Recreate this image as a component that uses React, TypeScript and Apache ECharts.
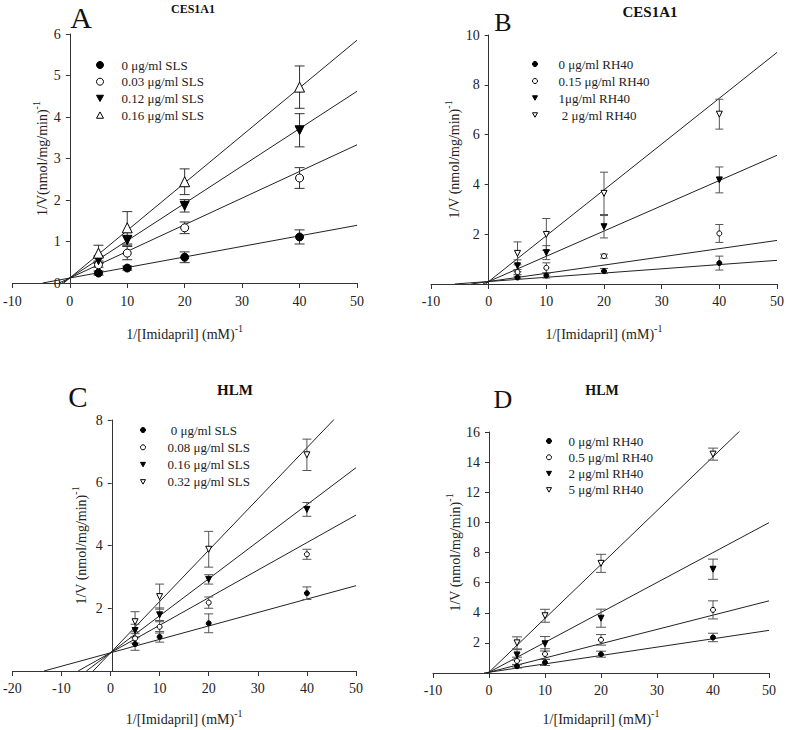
import React, { useEffect, useRef } from 'react';
import * as echarts from 'echarts';

const FONT = "'Liberation Serif', 'Times New Roman', serif";
const X_VALUES = [5, 10, 20, 40];

// Panel A – CES1A1 with SLS
const A_NAMES = ['0 μg/ml SLS', '0.03 μg/ml SLS', '0.12 μg/ml SLS', '0.16 μg/ml SLS'];
const A_Y = [
  [0.24, 0.36, 0.62, 1.11],
  [0.44, 0.72, 1.33, 2.53],
  [0.55, 1.03, 1.86, 3.68],
  [0.72, 1.33, 2.44, 4.72],
];
const A_ERR = [
  [0.05, 0.05, 0.13, 0.17],
  [0.06, 0.16, 0.14, 0.25],
  [0.08, 0.12, 0.15, 0.4],
  [0.19, 0.39, 0.31, 0.51],
];
const A_SLOPE = [0.0254, 0.0642, 0.09, 0.1146];
const A_INTERCEPT = 0.12;

// Panel B – CES1A1 with RH40
const B_NAMES = ['0 μg/ml RH40', '0.15 μg/ml RH40', '1μg/ml RH40', ' 2 μg/ml RH40'];
const B_Y = [
  [0.26, 0.34, 0.52, 0.84],
  [0.48, 0.65, 1.12, 2.03],
  [0.73, 1.26, 2.3, 4.18],
  [1.23, 1.99, 3.64, 6.82],
];
const B_ERR = [
  [0.05, 0.1, 0.1, 0.28],
  [0.1, 0.2, 0.08, 0.36],
  [0.24, 0.28, 0.45, 0.52],
  [0.46, 0.64, 0.85, 0.6],
];
const B_SLOPE = [0.017, 0.033, 0.1014, 0.184];
const B_INTERCEPT = 0.1;

// Panel C – HLM with SLS
const C_NAMES = [' 0 μg/ml SLS', '0.08 μg/ml SLS', '0.16 μg/ml SLS', '0.32 μg/ml SLS'];
const C_Y = [
  [0.86, 1.09, 1.52, 2.48],
  [1.04, 1.41, 2.18, 3.72],
  [1.29, 1.79, 2.92, 5.15],
  [1.57, 2.37, 3.88, 6.89],
];
const C_ERR = [
  [0.2, 0.17, 0.3, 0.2],
  [0.15, 0.2, 0.18, 0.16],
  [0.2, 0.22, 0.15, 0.22],
  [0.32, 0.4, 0.57, 0.5],
];
const C_SLOPE = [0.0428, 0.0878, 0.118, 0.1634];
const C_INTERCEPT = 0.58;

// Panel D – HLM with RH40
const D_NAMES = ['0 μg/ml RH40', '0.5 μg/ml RH40', '2 μg/ml RH40', '5 μg/ml RH40'];
const D_Y = [
  [0.45, 0.7, 1.25, 2.36],
  [0.8, 1.26, 2.2, 4.19],
  [1.2, 1.94, 3.64, 6.89],
  [2.0, 3.8, 7.28, 14.53],
];
const D_ERR = [
  [0.12, 0.2, 0.2, 0.28],
  [0.25, 0.35, 0.35, 0.6],
  [0.35, 0.48, 0.6, 0.67],
  [0.4, 0.43, 0.6, 0.4],
];
const D_SLOPE = [0.0556, 0.0948, 0.1986, 0.3576];
const D_INTERCEPT = 0.05;

const DOWN_TRI = 'path://M0,0L10,0L5,9Z';
const UP_TRI = 'path://M5,0L10,9L0,9Z';
const X_MAX = 50;

type Panel = {
  key: string;
  names: string[];
  ys: number[][];
  errs: number[][];
  slopes: number[];
  intercept: number;
  xMin: number;
  yMax: number;
  yInterval: number;
  showZero: boolean;
  grid: { left: number; top: number; width: number; height: number };
  symbols: { symbol: string; filled: boolean; size: number }[];
  capW: number;
  errColor: string;
  yName: string;
  yGap: number;
  xGap: number;
  xLabelMargin: number;
  legend: { left: number; top: number; textPad: number; rowH: number; icon: number };
};

const PANELS: Panel[] = [
  {
    key: 'A', names: A_NAMES, ys: A_Y, errs: A_ERR, slopes: A_SLOPE, intercept: A_INTERCEPT,
    xMin: -10, yMax: 6, yInterval: 1, showZero: true,
    grid: { left: 12, top: 34, width: 345, height: 249 },
    symbols: [
      { symbol: 'circle', filled: true, size: 8 },
      { symbol: 'circle', filled: false, size: 8 },
      { symbol: DOWN_TRI, filled: true, size: 9 },
      { symbol: UP_TRI, filled: false, size: 10 },
    ],
    capW: 10, errColor: '#333', yName: '1/V(nmol/mg/min)', yGap: 18, xGap: 40, xLabelMargin: 11,
    legend: { left: 96, top: 58, textPad: 13, rowH: 16.7, icon: 7 },
  },
  {
    key: 'B', names: B_NAMES, ys: B_Y, errs: B_ERR, slopes: B_SLOPE, intercept: B_INTERCEPT,
    xMin: -10, yMax: 10, yInterval: 2, showZero: false,
    grid: { left: 431, top: 35, width: 346, height: 249 },
    symbols: [
      { symbol: 'circle', filled: true, size: 5 },
      { symbol: 'circle', filled: false, size: 5 },
      { symbol: DOWN_TRI, filled: true, size: 6 },
      { symbol: DOWN_TRI, filled: false, size: 6 },
    ],
    capW: 8, errColor: '#555', yName: '1/V (nmol/mg/min)', yGap: 27, xGap: 39, xLabelMargin: 10,
    legend: { left: 532, top: 57, textPad: 16, rowH: 17, icon: 5 },
  },
  {
    key: 'C', names: C_NAMES, ys: C_Y, errs: C_ERR, slopes: C_SLOPE, intercept: C_INTERCEPT,
    xMin: -20, yMax: 8, yInterval: 2, showZero: false,
    grid: { left: 8, top: 420, width: 348, height: 251 },
    symbols: [
      { symbol: 'circle', filled: true, size: 5 },
      { symbol: 'circle', filled: false, size: 5 },
      { symbol: DOWN_TRI, filled: true, size: 6 },
      { symbol: DOWN_TRI, filled: false, size: 6 },
    ],
    capW: 9, errColor: '#555', yName: '1/V (nmol/mg/min)', yGap: 23, xGap: 37, xLabelMargin: 10,
    legend: { left: 140, top: 423, textPad: 17, rowH: 17.3, icon: 5 },
  },
  {
    key: 'D', names: D_NAMES, ys: D_Y, errs: D_ERR, slopes: D_SLOPE, intercept: D_INTERCEPT,
    xMin: -10, yMax: 16, yInterval: 2, showZero: false,
    grid: { left: 433, top: 432, width: 336, height: 241 },
    symbols: [
      { symbol: 'circle', filled: true, size: 5 },
      { symbol: 'circle', filled: false, size: 5 },
      { symbol: DOWN_TRI, filled: true, size: 6 },
      { symbol: DOWN_TRI, filled: false, size: 6 },
    ],
    capW: 10, errColor: '#555', yName: '1/V (nmol/mg/min)', yGap: 25, xGap: 35, xLabelMargin: 10,
    legend: { left: 546, top: 434, textPad: 12, rowH: 16.3, icon: 5 },
  },
];

const HEADINGS = [
  { letter: 'A', lx: 81, ly: 17, lsize: 30, title: 'CES1A1', tx: 193, ty: 9, tsize: 12 },
  { letter: 'B', lx: 503, ly: 22, lsize: 26, title: 'CES1A1', tx: 650, ty: 12, tsize: 15 },
  { letter: 'C', lx: 78, ly: 397, lsize: 29, title: 'HLM', tx: 235, ty: 390, tsize: 15 },
  { letter: 'D', lx: 503, ly: 399, lsize: 26, title: 'HLM', tx: 602, ty: 390, tsize: 14 },
];

const X_NAME = '{n|1/[Imidapril] (mM)}{s|-1}';

function buildOption() {
  const grid: any[] = [];
  const xAxis: any[] = [];
  const yAxis: any[] = [];
  const series: any[] = [];
  const legend: any[] = [];
  const rich = {
    n: { fontFamily: FONT, fontSize: 14, color: '#222', lineHeight: 18, verticalAlign: 'bottom' },
    s: { fontFamily: FONT, fontSize: 10, color: '#222', lineHeight: 10, verticalAlign: 'top' },
  };

  PANELS.forEach((p, gi) => {
    grid.push({ ...p.grid, containLabel: false });
    // place the y axis line at x = 0 of the x scale
    const zeroOffset = ((0 - p.xMin) / (X_MAX - p.xMin)) * p.grid.width;
    xAxis.push({
      type: 'value', gridIndex: gi, min: p.xMin, max: X_MAX, interval: 10, position: 'bottom',
      name: X_NAME, nameLocation: 'middle', nameGap: p.xGap,
      nameTextStyle: { fontFamily: FONT, rich },
      axisLine: { onZero: false, lineStyle: { color: '#333', width: 1 } },
      axisTick: { show: true, length: 5, lineStyle: { color: '#333' } },
      axisLabel: { fontFamily: FONT, fontSize: 14, color: '#222', margin: p.xLabelMargin },
      splitLine: { show: false },
    });
    yAxis.push({
      type: 'value', gridIndex: gi, min: 0, max: p.yMax, interval: p.yInterval,
      position: 'left', offset: -zeroOffset,
      name: '{n|' + p.yName + '}{s|-1}', nameLocation: 'middle', nameGap: p.yGap, nameRotate: 90,
      nameTextStyle: { fontFamily: FONT, rich },
      axisLine: { show: true, onZero: false, lineStyle: { color: '#333', width: 1 } },
      axisTick: { show: true, length: 4, lineStyle: { color: '#333' } },
      axisLabel: {
        fontFamily: FONT, fontSize: 14, color: '#222', margin: 9,
        formatter: (v: number) => (v === 0 && !p.showZero ? '' : String(v)),
      },
      splitLine: { show: false },
    });

    const legendNames: string[] = [];
    p.names.forEach((nm, si) => {
      const sname = p.key + '|' + nm;
      legendNames.push(sname);
      const sym = p.symbols[si];
      const m = p.slopes[si];
      const b = p.intercept;
      const x0 = Math.max(p.xMin, -b / m);
      series.push({
        type: 'line', xAxisIndex: gi, yAxisIndex: gi, name: p.key + '-fit-' + si,
        data: [[x0, b + m * x0], [X_MAX, b + m * X_MAX]],
        showSymbol: false, symbol: 'none', clip: true, silent: true, z: 2,
        lineStyle: { color: '#222', width: 1 },
      });
      series.push({
        type: 'custom', xAxisIndex: gi, yAxisIndex: gi, name: p.key + '-err-' + si,
        data: X_VALUES.map((x, i) => [x, p.ys[si][i], p.errs[si][i]]),
        encode: { x: 0, y: 1 }, silent: true, z: 3,
        renderItem: (params: any, api: any) => {
          const x = api.value(0);
          const y = api.value(1);
          const e = api.value(2);
          const top = api.coord([x, y + e]);
          const bot = api.coord([x, y - e]);
          const hw = p.capW / 2;
          const style = { stroke: p.errColor, lineWidth: 1 };
          return {
            type: 'group',
            children: [
              { type: 'line', shape: { x1: top[0], y1: top[1], x2: bot[0], y2: bot[1] }, style },
              { type: 'line', shape: { x1: top[0] - hw, y1: top[1], x2: top[0] + hw, y2: top[1] }, style },
              { type: 'line', shape: { x1: bot[0] - hw, y1: bot[1], x2: bot[0] + hw, y2: bot[1] }, style },
            ],
          };
        },
      });
      series.push({
        type: 'scatter', xAxisIndex: gi, yAxisIndex: gi, name: sname,
        data: X_VALUES.map((x, i) => [x, p.ys[si][i]]),
        symbol: sym.symbol, symbolSize: sym.size, z: 5,
        itemStyle: { color: sym.filled ? '#000' : '#fff', borderColor: '#000', borderWidth: 1, opacity: 1 },
      });
    });

    legend.push({
      orient: 'vertical', left: p.legend.left, top: p.legend.top,
      itemWidth: p.legend.icon, itemHeight: p.legend.icon,
      itemGap: p.legend.rowH - 14, padding: 0,
      data: legendNames, selectedMode: false,
      itemStyle: { borderWidth: 1 },
      formatter: (name: string) => name.split('|')[1],
      textStyle: { fontFamily: FONT, fontSize: 13, color: '#222', lineHeight: 14, padding: [0, 0, 0, p.legend.textPad] },
    });
  });

  const graphic: any[] = [];
  HEADINGS.forEach((h) => {
    graphic.push({
      type: 'text', x: h.lx, y: h.ly,
      style: { text: h.letter, fontFamily: FONT, fontSize: h.lsize, fill: '#111', align: 'center', verticalAlign: 'middle' },
    });
    graphic.push({
      type: 'text', x: h.tx, y: h.ty,
      style: { text: h.title, fontFamily: FONT, fontSize: h.tsize, fontWeight: 'bold', fill: '#111', align: 'center', verticalAlign: 'middle' },
    });
  });

  return {
    animation: false,
    backgroundColor: '#fff',
    textStyle: { fontFamily: FONT },
    grid, xAxis, yAxis, series, legend, graphic,
  };
}

export default function App() {
  const ref = useRef<HTMLDivElement>(null);
  useEffect(() => {
    document.body.style.margin = '0';
    if (!ref.current) return;
    const chart = echarts.init(ref.current, undefined, { renderer: 'svg' });
    chart.setOption(buildOption() as any);
    return () => chart.dispose();
  }, []);
  return <div ref={ref} style={{ width: 787, height: 730 }} />;
}
